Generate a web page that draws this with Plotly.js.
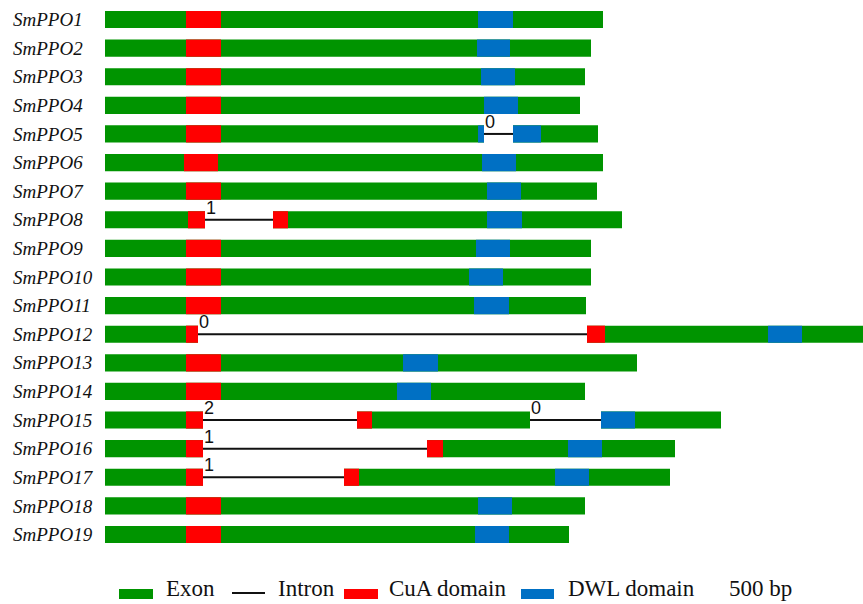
<!DOCTYPE html>
<html>
<head>
<meta charset="utf-8">
<script src="https://cdn.plot.ly/plotly-3.0.1.min.js"></script>
<style>html,body{margin:0;padding:0;background:#fff;}#chart{width:863px;height:604px;}</style>
</head>
<body>
<div id="chart"></div>
<script>
// Gene names (top to bottom)
const genes = ['SmPPO1','SmPPO2','SmPPO3','SmPPO4','SmPPO5','SmPPO6','SmPPO7','SmPPO8','SmPPO9','SmPPO10',
  'SmPPO11','SmPPO12','SmPPO13','SmPPO14','SmPPO15','SmPPO16','SmPPO17','SmPPO18','SmPPO19'];

// Exon segments [start, end] per gene (relative units)
const exons = [
  [[0,498]], [[0,486]], [[0,480]], [[0,475]],
  [[0,379],[408,493]],
  [[0,498]], [[0,492]],
  [[0,100],[168,517]],
  [[0,486]], [[0,486]], [[0,481]],
  [[0,93],[482,760]],
  [[0,532]], [[0,480]],
  [[0,98],[252,425],[496,616]],
  [[0,98],[322,570]],
  [[0,98],[239,565]],
  [[0,480]], [[0,464]]
];

// Intron segments per gene
const introns = [
  [], [], [], [], [[379,408]], [], [], [[100,168]], [], [], [],
  [[93,482]], [], [], [[98,252],[425,496]], [[98,322]], [[98,239]], [], []
];

// Intron phases per gene
const intronPhases = [
  [], [], [], [], [0], [], [], [1], [], [], [],
  [0], [], [], [2,0], [1], [1], [], []
];

// CuA domain segments per gene
const cuaDomains = [
  [[81,116]], [[81,116]], [[81,116]], [[81,116]], [[81,116]], [[79,113]], [[81,116]],
  [[83,100],[168,183]],
  [[81,116]], [[81,116]], [[81,116]],
  [[81,93],[482,500]],
  [[81,116]], [[81,116]],
  [[81,98],[252,267]],
  [[81,98],[322,338]],
  [[81,98],[239,254]],
  [[81,116]], [[81,116]]
];

// DWL domain segments per gene
const dwlDomains = [
  [[373,408]], [[372,405]], [[376,410]], [[379,413]],
  [[373,379],[408,436]],
  [[377,411]], [[382,416]], [[382,417]], [[371,405]], [[364,398]], [[369,404]],
  [[663,697]], [[298,333]], [[292,326]], [[496,530]], [[463,497]], [[450,484]],
  [[373,407]], [[370,404]]
];

const legendLabels = ['Exon', 'Intron', 'CuA domain', 'DWL domain'];
const scaleLabel = '500 bp';

const GREEN = '#009400', RED = '#ff0000', BLUE = '#0070c4';

function barTrace(segs, color, name) {
  const y = [], x = [], base = [];
  segs.forEach((list, i) => list.forEach(s => { y.push(genes[i]); base.push(s[0]); x.push(s[1] - s[0]); }));
  return {type: 'bar', orientation: 'h', y: y, x: x, base: base, width: 0.6, name: name,
    marker: {color: color, line: {width: 0}}, hoverinfo: 'skip'};
}

const ix = [], iy = [];
introns.forEach((list, i) => list.forEach(s => { ix.push(s[0], s[1], null); iy.push(genes[i], genes[i], null); }));
const intronTrace = {type: 'scatter', mode: 'lines', x: ix, y: iy, name: legendLabels[1],
  line: {color: '#111', width: 2}, hoverinfo: 'skip'};

const data = [
  intronTrace,
  barTrace(exons, GREEN, legendLabels[0]),
  barTrace(cuaDomains, RED, legendLabels[2]),
  barTrace(dwlDomains, BLUE, legendLabels[3])
];

const W = 863, H = 604;
const px = v => v / W, py = v => 1 - v / H;

const annotations = [];
introns.forEach((list, i) => list.forEach((s, k) => {
  annotations.push({x: s[0], y: genes[i], xref: 'x', yref: 'y', text: String(intronPhases[i][k]),
    xanchor: 'left', yanchor: 'bottom', showarrow: false, yshift: 0, xshift: -1,
    font: {family: 'Liberation Sans, Arial, sans-serif', size: 18, color: '#111'}});
}));

const shapes = [];
const legFont = {family: 'Liberation Serif, Times New Roman, serif', size: 23, color: '#111'};
// legend items: symbol then label
const legItems = [
  {kind: 'rect', color: GREEN, x0: 119, x1: 153, tx: 165, label: legendLabels[0]},
  {kind: 'line', color: '#111', x0: 232, x1: 265, tx: 277, label: legendLabels[1]},
  {kind: 'rect', color: RED, x0: 344, x1: 378, tx: 388, label: legendLabels[2]},
  {kind: 'rect', color: BLUE, x0: 521, x1: 554, tx: 567, label: legendLabels[3]}
];
legItems.forEach(it => {
  if (it.kind === 'rect') {
    shapes.push({type: 'rect', xref: 'paper', yref: 'paper', x0: px(it.x0), x1: px(it.x1), y0: py(599), y1: py(589),
      fillcolor: it.color, line: {width: 0}});
  } else {
    shapes.push({type: 'line', xref: 'paper', yref: 'paper', x0: px(it.x0), x1: px(it.x1), y0: py(593), y1: py(593),
      line: {color: it.color, width: 2}});
  }
  annotations.push({x: px(it.tx), y: py(602), xref: 'paper', yref: 'paper', text: it.label, xanchor: 'left',
    yanchor: 'bottom', showarrow: false, font: legFont, borderpad: 0});
});
annotations.push({x: px(728), y: py(602), xref: 'paper', yref: 'paper', text: scaleLabel, xanchor: 'left',
  yanchor: 'bottom', showarrow: false, font: legFont, borderpad: 0});

const spacing = 28.61;
const rmin = -19.5 / spacing;
const rmax = rmin + H / spacing;

const layout = {
  width: W, height: H,
  margin: {l: 0, r: 0, t: 0, b: 0},
  paper_bgcolor: '#fff', plot_bgcolor: '#fff',
  showlegend: false,
  barmode: 'overlay',
  xaxis: {range: [-105, 758], visible: false, fixedrange: true},
  yaxis: {type: 'category', categoryorder: 'array', categoryarray: genes, range: [rmax, rmin],
    showgrid: false, zeroline: false, showline: false, ticks: '',
    ticklabelposition: 'inside', ticklabelstandoff: 10,
    tickfont: {family: 'Liberation Serif, Times New Roman, serif', size: 19, color: '#111', style: 'italic'}},
  shapes: shapes,
  annotations: annotations
};

Plotly.newPlot('chart', data, layout, {staticPlot: true, displayModeBar: false});
</script>
</body>
</html>
